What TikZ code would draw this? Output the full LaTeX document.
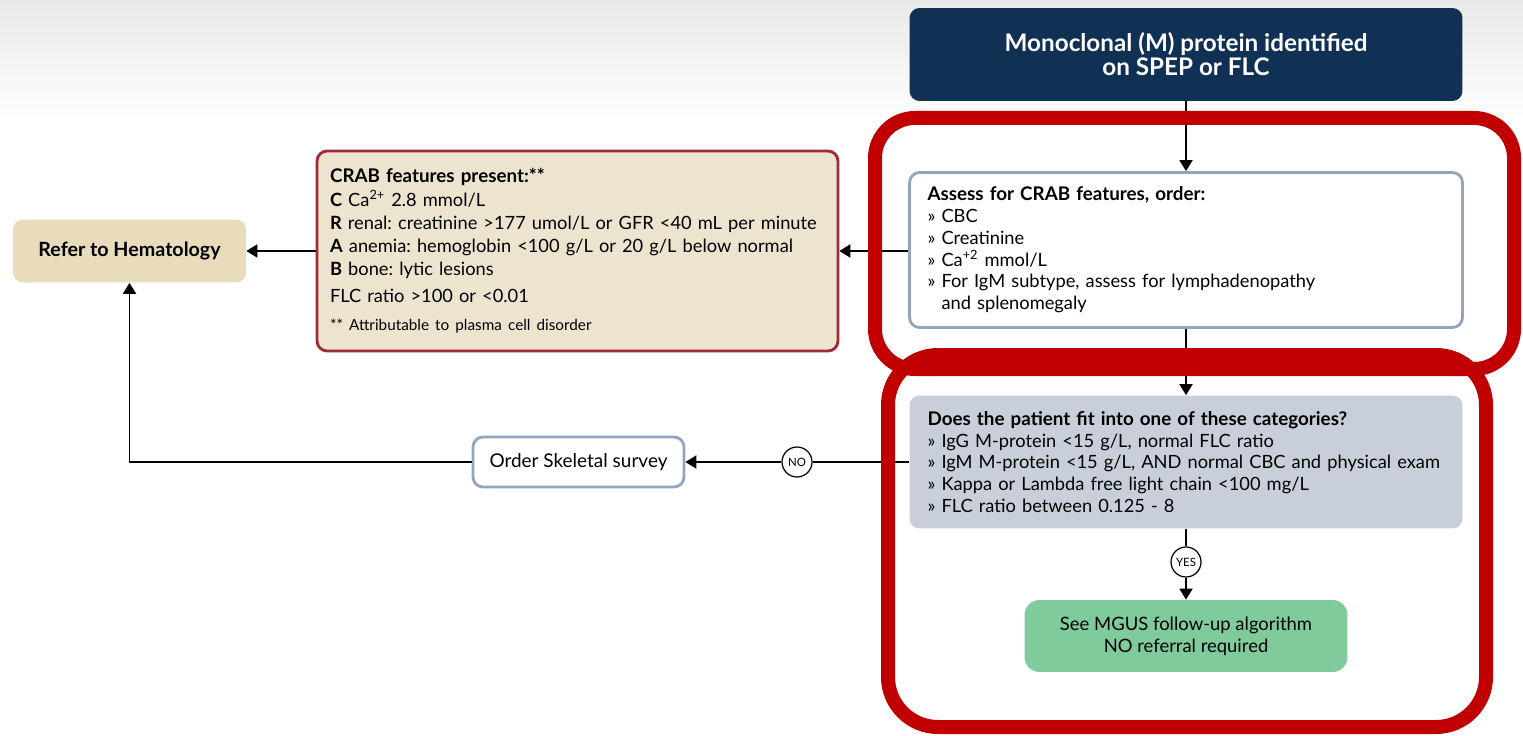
\documentclass[tikz,border=0pt]{standalone}
\usepackage{fontspec}
\setmainfont{Lato}
\usepackage{tikz}
\newcommand{\widebox}{11.06cm}
\newcommand{\widetext}{10.34cm}
\usetikzlibrary{arrows.meta,positioning}
\definecolor{navy}{RGB}{16,48,84}
\definecolor{alertred}{RGB}{192,0,0}
\definecolor{crabfill}{RGB}{237,228,208}
\definecolor{crabline}{RGB}{158,42,60}
\definecolor{sand}{RGB}{232,220,188}
\definecolor{steel}{RGB}{147,165,190}
\definecolor{mist}{RGB}{200,207,219}
\definecolor{mint}{RGB}{127,203,156}
\newcommand{\head}[1]{{\bfseries\fontsize{10.7}{12.4}\selectfont #1}}
\frenchspacing
\tikzset{
  >={Triangle[length=2.2mm,width=2.6mm]},
  font=\fontsize{10.4}{12.4}\selectfont,
  box/.style={shape=rectangle,rounded corners=0.2cm,inner sep=0pt},
  titlebox/.style={box,fill=navy,text=white,font=\bfseries\fontsize{13.8}{13.6}\selectfont,minimum width=\widebox,minimum height=1.86cm,align=center},
  listbox/.style={box,minimum width=\widebox,text width=\widetext,align=left},
  crabbox/.style={box,draw=crabline,fill=crabfill,line width=1.6pt,minimum width=10.42cm,minimum height=4cm,text width=9.9cm,align=left,font=\fontsize{10.4}{13.2}\selectfont},
  referbox/.style={box,fill=sand,font=\bfseries\fontsize{11.2}{12}\selectfont,minimum width=4.66cm,minimum height=1.26cm},
  stepbox/.style={box,draw=steel,fill=white,line width=1.6pt,minimum width=4.22cm,minimum height=1cm,font=\fontsize{10.8}{12}\selectfont},
  mgusbox/.style={box,fill=mint,rounded corners=0.3cm,minimum width=6.46cm,minimum height=1.44cm,align=center,font=\fontsize{10.5}{12.4}\selectfont},
  choice/.style={draw,shape=circle,fill=white,line width=0.7pt,minimum size=0.6cm,inner sep=0pt,font=\fontsize{6.5}{7}\selectfont},
  line/.style={draw,line width=1.1pt},
  alert/.style={draw=alertred,line width=0.28cm}
}
\begin{document}
\begin{tikzpicture}[x=0.02cm,y=-0.02cm]
  \useasboundingbox (0,0) rectangle (1523,736);
  \shade [top color=gray!18,bottom color=white] (0,0) rectangle (1523,120);

  \node (top) [titlebox] at (1186,54.5) {Monoclonal (M) protein identified\\on SPEP or FLC};
  \node (assess) [listbox,draw=steel,fill=white,line width=1.6pt,minimum height=3.1cm] at (1186,250) {
    \head{Assess for CRAB features, order:}\\
    » CBC\\
    » Creatinine\\
    » Ca\textsuperscript{+2} mmol/L\\
    » For IgM subtype, assess for lymphadenopathy\\
    \phantom{» }and splenomegaly};
  \node (cats) [listbox,fill=mist,minimum height=2.66cm] at (1186,462) {
    \head{Does the patient fit into one of these categories?}\\
    » IgG M-protein <15 g/L, normal FLC ratio\\
    » IgM M-protein <15 g/L, AND normal CBC and physical exam\\
    » Kappa or Lambda free light chain <100 mg/L\\
    » FLC ratio between 0.125 - 8};
  \node (yes) [choice] at (1186,562) {YES};
  \node (mgus) [mgusbox] at (1186,636) {See MGUS follow-up algorithm\\NO referral required};
  \node (no) [choice] at (797,462) {NO};
  \node (skel) [stepbox] at (578.5,462) {Order Skeletal survey};
  \node (crab) [crabbox] at (577.5,251) {
    \head{CRAB features present:**}\\
    \textbf{C} Ca\textsuperscript{2+} 2.8 mmol/L\\
    \textbf{R} renal: creatinine >177 umol/L or GFR <40 mL per minute\\
    \textbf{A} anemia: hemoglobin <100 g/L or 20 g/L below normal\\
    \textbf{B} bone: lytic lesions\\[2pt]
    FLC ratio >100 or <0.01\\[3pt]
    {\fontsize{8.7}{10}\selectfont ** Attributable to plasma cell disorder}};
  \node (refer) [referbox] at (129.5,251) {Refer to Hematology};

  \path [line,->] (top) -- (assess);
  \path [line,->] (assess) -- (cats);
  \path [line] (cats) -- (yes);
  \path [line,->] (yes) -- (mgus);
  \path [line] (cats) -- (no);
  \path [line,->] (no) -- (skel);
  \path [line,->] (skel) -| (refer);
  \path [line,->] (assess.west |- crab) -- (crab);
  \path [line,->] (crab) -- (refer);

  \path [alert,rounded corners=0.8cm] (875,118) rectangle (1514,369);
  \path [alert,rounded corners=1cm] (888,355) rectangle (1486,727);
\end{tikzpicture}
\end{document}
